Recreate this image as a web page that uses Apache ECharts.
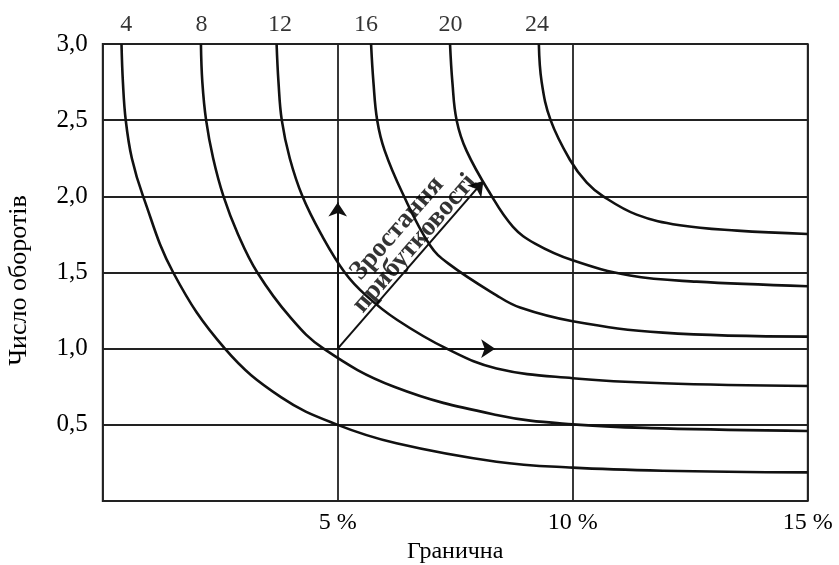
<!DOCTYPE html>
<html lang="uk">
<head>
<meta charset="utf-8"/>
<title>Зростання прибутковості</title>
<script src="https://cdn.jsdelivr.net/npm/echarts@6/dist/echarts.min.js"></script>
<style>
    html, body { margin: 0; padding: 0; background: #fff; }
    #chart { width: 839px; height: 565px; }
</style>
</head>
<body>
<div id="chart"></div>
<script>
    // криві (гранична рентабельність %, число оборотів)
    var curveNames = ['4', '8', '12', '16', '20', '24'];
    var labelX = [0.5, 2.1, 3.77, 5.6, 7.4, 9.24];
    var curve4 = [[0.40, 3.0], [0.43, 2.75], [0.49, 2.5], [0.62, 2.25], [0.86, 2.0], [1.50, 1.5], [2.6, 1.0],
        [3.8, 0.68], [5.0, 0.5], [6.25, 0.379], [8.38, 0.258], [10, 0.219], [11.92, 0.199], [15, 0.188]];
    var curve8 = [[2.09, 3.0], [2.12, 2.75], [2.20, 2.5], [2.35, 2.25], [2.57, 2.0], [2.88, 1.75], [3.29, 1.5],
        [3.98, 1.21], [4.7, 1.0], [6.2, 0.75], [8.38, 0.565], [10, 0.503], [11.92, 0.477], [15, 0.46]];
    var curve12 = [[3.70, 3.0], [3.74, 2.75], [3.81, 2.5], [3.98, 2.25], [4.25, 2.0], [4.65, 1.75], [5.15, 1.5],
        [5.6, 1.35], [6.26, 1.19], [7.32, 1.0], [8.38, 0.87], [10, 0.806], [11.92, 0.773], [15, 0.755]];
    var curve16 = [[5.71, 3.0], [5.76, 2.75], [5.84, 2.5], [6.0, 2.3], [6.38, 2.02], [6.96, 1.68], [7.35, 1.56],
        [8.38, 1.35], [8.88, 1.27], [10, 1.18], [11.92, 1.105], [15, 1.079]];
    var curve20 = [[7.39, 3.0], [7.44, 2.75], [7.53, 2.5], [7.74, 2.3], [8.24, 2.02], [8.73, 1.8], [9.2, 1.69],
        [10, 1.58], [11.22, 1.48], [12.64, 1.44], [15, 1.41]];
    var curve24 = [[9.28, 3.0], [9.34, 2.75], [9.53, 2.5], [9.94, 2.24], [10.3, 2.09], [10.65, 2.0],
        [11.36, 1.88], [12.28, 1.81], [13.5, 1.775], [15, 1.753]];
    var curves = [curve4, curve8, curve12, curve16, curve20, curve24];

    // стрілки
    var arrowOrigin = [5, 1.0];
    var arrowEnds = [[5, 1.96], [8.35, 1.0], [8.1, 2.1]];
    var growthText = 'Зростання\nприбутковості';
    var growthAt = [6.45, 1.74];

    var xTicks = [0, 5, 10, 15];
    var yTicks = [0, 0.5, 1.0, 1.5, 2.0, 2.5, 3.0];

    var serif = 'Liberation Serif';
    var ink = '#000';
    var chart = echarts.init(document.getElementById('chart'));

    var series = [];
    for (var i = 0; i < curves.length; i++) {
        series.push({
            type: 'line',
            name: curveNames[i],
            data: curves[i],
            smooth: 0.4,
            showSymbol: false,
            symbol: 'none',
            lineStyle: { color: '#111', width: 2.6 },
            silent: true
        });
    }

    // підписи кривих над графіком
    var topLabels = [];
    for (var k = 0; k < curveNames.length; k++) {
        topLabels.push({ value: [labelX[k], yTicks[yTicks.length - 1]], name: curveNames[k] });
    }
    series.push({
        type: 'scatter',
        data: topLabels,
        symbolSize: 0,
        silent: true,
        label: {
            show: true,
            position: 'top',
            distance: 7,
            formatter: '{b}',
            fontFamily: serif,
            fontSize: 24,
            color: ink
        }
    });

    var arrowData = arrowEnds.map(function (end) {
        return { coords: [arrowOrigin, end] };
    });
    series.push({
        type: 'lines',
        coordinateSystem: 'cartesian2d',
        data: arrowData,
        symbol: ['none', 'arrow'],
        symbolSize: 14,
        silent: true,
        lineStyle: { color: '#111', width: 2, opacity: 1 }
    });

    series.push({
        type: 'scatter',
        data: [{ value: growthAt, name: growthText }],
        symbolSize: 0,
        silent: true,
        label: {
            show: true,
            position: 'inside',
            rotate: 49,
            formatter: '{b}',
            fontFamily: serif,
            fontWeight: 'bold',
            fontSize: 27,
            lineHeight: 23,
            align: 'center',
            color: ink
        }
    });

    var option = {
        backgroundColor: '#fff',
        animation: false,
        grid: {
            left: 102.7,
            right: 31.3,
            top: 44,
            bottom: 64,
            containLabel: false,
            outerBoundsMode: 'none',
            show: true,
            borderColor: '#222',
            borderWidth: 1.8
        },
        xAxis: {
            type: 'value',
            min: xTicks[0],
            max: xTicks[xTicks.length - 1],
            interval: 5,
            name: 'Гранична',
            nameLocation: 'middle',
            nameGap: 32,
            nameTextStyle: { fontFamily: serif, fontSize: 24, color: ink },
            axisLine: { show: false },
            axisTick: { show: false },
            axisLabel: {
                margin: 10,
                fontFamily: serif,
                fontSize: 24,
                color: ink,
                formatter: function (v) { return v === 0 ? '' : v + ' %'; }
            },
            splitLine: { show: true, lineStyle: { color: '#222', width: 1.8 } }
        },
        yAxis: {
            type: 'value',
            min: yTicks[0],
            max: yTicks[yTicks.length - 1],
            interval: 0.5,
            name: 'Число оборотів',
            nameLocation: 'middle',
            nameGap: 71,
            nameTextStyle: { fontFamily: serif, fontSize: 26, color: ink, padding: [0, 16, 0, 0] },
            axisLine: { show: false },
            axisTick: { show: false },
            axisLabel: {
                margin: 15,
                fontFamily: serif,
                fontSize: 25,
                color: ink,
                formatter: function (v) { return v === 0 ? '' : v.toFixed(1).replace('.', ','); }
            },
            splitLine: { show: true, lineStyle: { color: '#222', width: 1.8 } }
        },
        series: series
    };
    chart.setOption(option);
</script>
</body>
</html>
